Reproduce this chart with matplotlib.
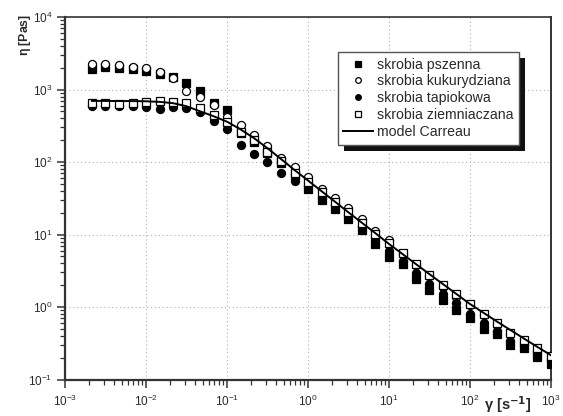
"""Flow curves of four starch pastes with the Carreau model fit (log-log)."""

import matplotlib

matplotlib.use("Agg")
import matplotlib.pyplot as plt
from matplotlib.patches import Rectangle

plt.rcParams["font.family"] = ["Liberation Sans", "DejaVu Sans"]
plt.rcParams["mathtext.default"] = "regular"

# shear rate [1/s], same grid for every series
shear_rate = [0.00215, 0.00316, 0.00464, 0.00681, 0.01, 0.0147, 0.0215,
              0.0316, 0.0464, 0.0681, 0.1, 0.147, 0.215, 0.316, 0.464,
              0.681, 1.0, 1.47, 2.15, 3.16, 4.64, 6.81, 10.0, 14.7, 21.5,
              31.6, 46.4, 68.1, 100.0, 147.0, 215.0, 316.0, 464.0, 681.0,
              1000.0]

# apparent viscosity [Pa s]
eta_pszenna = [1936, 2023, 1964, 1897, 1800, 1637, 1500, 1217, 953, 658,
               521, 255, 190, 135, 98, 66, 43, 30, 22.5, 16.4, 11.5, 7.4,
               4.9, 3.9, 2.47, 1.71, 1.25, 0.92, 0.70, 0.50, 0.42, 0.295,
               0.268, 0.204, 0.164]
eta_kukurydziana = [2230, 2230, 2180, 2070, 1960, 1760, 1450, 960, 800, 620,
                    420, 325, 236, 168, 112, 86, 62, 42.5, 31.5, 23, 16.2,
                    11.3, 8.4, 5.4, 3.8, 2.7, 1.9, 1.36, 1.05, 0.78, 0.57,
                    0.43, 0.33, 0.25, 0.19]
eta_tapiokowa = [592, 596, 600, 592, 580, 545, 574, 550, 484, 371, 285, 171,
                 128, 99, 71, 55, 46, 31.6, 25.5, 19.2, 13.1, 9.0, 5.9, 4.3,
                 2.94, 2.07, 1.5, 1.12, 0.79, 0.60, 0.47, 0.345, 0.295,
                 0.229, 0.18]
eta_ziemniaczana = [658, 650, 625, 650, 680, 694, 680, 644, 561, 445, 360,
                    262, 201, 139, 104, 70, 53, 39, 28, 20.5, 14.5, 10.2,
                    7.6, 5.5, 3.9, 2.76, 2.0, 1.5, 1.09, 0.80, 0.596, 0.44,
                    0.35, 0.27, 0.21]

# Carreau model curve
eta_carreau = [697, 697, 695, 693, 689, 676, 649, 589, 501, 429, 360, 282,
               214, 155, 110, 77.6, 55.6, 39.6, 28.4, 20.2, 14.5, 10.4, 7.41,
               5.38, 3.91, 2.84, 2.07, 1.51, 1.10, 0.832, 0.631, 0.481,
               0.367, 0.281, 0.216]

LABELS = ["skrobia pszenna", "skrobia kukurydziana", "skrobia tapiokowa",
          "skrobia ziemniaczana", "model Carreau"]

C_TEXT = "#2a2a2a"
C_AXIS = "#333333"
C_GRID = "#b0b0b0"


def main():
    fig = plt.figure(figsize=(5.63, 4.16), dpi=100)
    ax = fig.add_axes([0.1155, 0.0877, 0.8632, 0.8713])

    mk = dict(ls="none", mec="black", mew=0.9)
    ax.plot(shear_rate, eta_pszenna, marker="s", ms=5.2, mfc="black",
            label=LABELS[0], zorder=3, **mk)
    ax.plot(shear_rate, eta_kukurydziana, marker="o", ms=5.8, mfc="white",
            label=LABELS[1], zorder=3, **mk)
    ax.plot(shear_rate, eta_tapiokowa, marker="o", ms=5.8, mfc="black",
            label=LABELS[2], zorder=3, **mk)
    ax.plot(shear_rate, eta_ziemniaczana, marker="s", ms=5.2, mfc="white",
            label=LABELS[3], zorder=3, **mk)
    ax.plot(shear_rate, eta_carreau, color="black", lw=1.4,
            label=LABELS[4], zorder=4)

    ax.set_xscale("log")
    ax.set_yscale("log")
    ax.set_xlim(1e-3, 1e3)
    ax.set_ylim(1e-1, 1e4)

    ax.grid(True, which="major", ls=(0, (1, 2.5)), color=C_GRID, lw=0.8)
    ax.tick_params(which="both", direction="out", colors=C_AXIS,
                   labelcolor=C_TEXT, labelsize=8.5, top=False, right=False)
    ax.tick_params(which="major", length=6, width=1.1)
    ax.tick_params(which="minor", length=3.5, width=0.9)
    ax.tick_params(axis="x", pad=4)
    ax.tick_params(axis="y", pad=3)
    for side, lw in (("left", 1.6), ("bottom", 1.6), ("top", 1.2),
                     ("right", 1.4)):
        ax.spines[side].set_color(C_AXIS)
        ax.spines[side].set_linewidth(lw)

    leg = ax.legend(loc="upper left", bbox_to_anchor=(0.561, 0.904),
                    borderaxespad=0, fontsize=10.2, frameon=True,
                    fancybox=False, edgecolor="#555555", framealpha=1,
                    handlelength=2.1, handletextpad=0.3, labelspacing=0.2,
                    borderpad=0.4, markerscale=0.7)
    leg.get_frame().set_linewidth(1.0)
    for t in leg.get_texts():
        t.set_color(C_TEXT)

    # solid offset shadow behind the legend box
    fig.canvas.draw()
    bb = leg.get_window_extent().transformed(ax.transAxes.inverted())
    dx, dy = 6 / 486.0, 6 / 362.5
    ax.add_patch(Rectangle((bb.x0 + dx, bb.y0 - dy), bb.width, bb.height,
                           transform=ax.transAxes, facecolor="#111111",
                           edgecolor="none", zorder=4.9, clip_on=False))

    fig.text(0.044, 0.917, r"$\eta$ [Pas]", rotation=90, ha="center",
             va="center", fontsize=8.8, fontweight="bold", color=C_TEXT)
    fig.text(0.902, 0.002, r"$\gamma$ [s$^{\mathbf{-1}}$]", ha="center",
             va="bottom", fontsize=10.5, fontweight="bold", color=C_TEXT)

    fig.savefig("out.png", dpi=100)
    plt.close(fig)


if __name__ == "__main__":
    main()
